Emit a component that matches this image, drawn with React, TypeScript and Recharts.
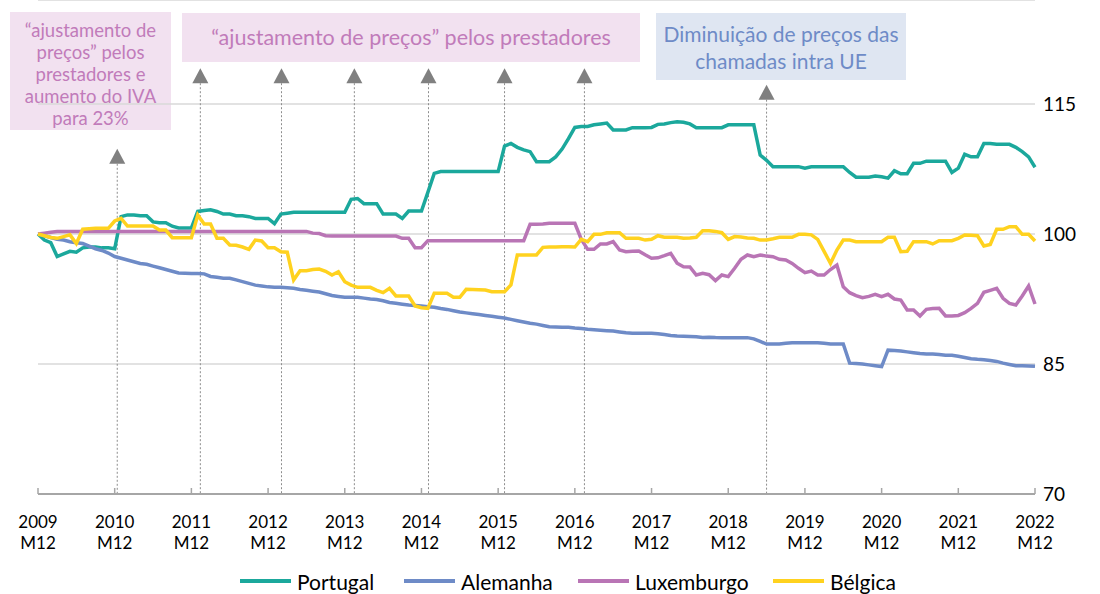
import React from 'react'
import { LineChart, Line, XAxis, YAxis, CartesianGrid, Legend, ReferenceLine } from 'recharts'

// monthly index, 2009 M12 .. 2022 M12
const months: string[] = []
for (let y = 2009; y <= 2022; y++) {
  for (let m = 1; m <= 12; m++) {
    if (y === 2009 && m < 12) continue
    months.push(`${y} M${String(m).padStart(2, '0')}`)
  }
}
const yearTicks = months.map((m, i) => (m.endsWith('M12') ? i : -1)).filter((i) => i >= 0)
const yTicks = [70, 85, 100, 115]

const portugal = [
  100, 99.3, 99.0, 97.4, 97.7, 98.0, 97.9, 98.4, 98.5, 98.5, 98.4, 98.4,
  98.3, 102.0, 102.2, 102.2, 102.1, 102.1, 101.4, 101.3, 101.3, 100.9, 100.7, 100.7,
  100.7, 102.6, 102.7, 102.8, 102.6, 102.3, 102.3, 102.1, 102.1, 102.0, 101.8, 101.8,
  101.8, 101.2, 102.3, 102.4, 102.5, 102.5, 102.5, 102.5, 102.5, 102.5, 102.5, 102.5,
  102.5, 104.0, 104.1, 103.5, 103.5, 103.5, 102.3, 102.3, 102.3, 101.8, 102.65, 102.65,
  102.65, 104.8, 107.0, 107.2, 107.2, 107.2, 107.2, 107.2, 107.2, 107.2, 107.2, 107.2,
  107.2, 110.15, 110.45, 110.0, 109.7, 109.5, 108.35, 108.35, 108.35, 108.9, 109.8, 111.0,
  112.3, 112.4, 112.4, 112.6, 112.7, 112.8, 112.0, 112.0, 112.0, 112.27, 112.27, 112.27,
  112.3, 112.65, 112.7, 112.85, 112.95, 112.9, 112.7, 112.27, 112.27, 112.27, 112.27, 112.27,
  112.6, 112.6, 112.6, 112.6, 112.6, 109.1, 108.5, 107.77, 107.77, 107.77, 107.77, 107.77,
  107.6, 107.75, 107.77, 107.77, 107.77, 107.77, 107.77, 107.1, 106.55, 106.55, 106.55, 106.7,
  106.6, 106.45, 107.3, 106.95, 106.95, 108.15, 108.15, 108.4, 108.4, 108.4, 108.4, 107.1,
  107.6, 109.2, 108.9, 108.9, 110.45, 110.45, 110.35, 110.35, 110.35, 110.0, 109.5, 108.9,
  107.7,
]

const alemanha = [
  100, 99.8, 99.6, 99.4, 99.3, 99.1, 99.0, 98.9, 98.6, 98.3, 98.1, 97.8,
  97.4, 97.2, 97.0, 96.8, 96.6, 96.5, 96.3, 96.1, 95.9, 95.7, 95.5, 95.47,
  95.45, 95.45, 95.4, 95.1, 95.0, 94.9, 94.9, 94.7, 94.5, 94.3, 94.1, 94.0,
  93.9, 93.85, 93.85, 93.8, 93.73, 93.6, 93.5, 93.4, 93.3, 93.1, 92.9, 92.8,
  92.7, 92.7, 92.7, 92.6, 92.5, 92.45, 92.3, 92.1, 92.0, 91.9, 91.8, 91.75,
  91.7, 91.6, 91.55, 91.4, 91.3, 91.15, 91.0, 90.9, 90.8, 90.7, 90.6, 90.5,
  90.4, 90.3, 90.15, 90.0, 89.85, 89.7, 89.6, 89.45, 89.3, 89.28, 89.25, 89.23,
  89.15, 89.1, 89.0, 88.95, 88.9, 88.85, 88.8, 88.7, 88.6, 88.55, 88.55, 88.55,
  88.55, 88.5, 88.4, 88.3, 88.23, 88.2, 88.17, 88.15, 88.05, 88.1, 88.05, 88.04,
  88.04, 88.04, 88.04, 88.04, 87.9, 87.6, 87.3, 87.3, 87.3, 87.4, 87.46, 87.46,
  87.46, 87.46, 87.46, 87.4, 87.3, 87.3, 87.3, 85.1, 85.05, 85.0, 84.9, 84.8,
  84.7, 86.6, 86.55, 86.5, 86.4, 86.3, 86.2, 86.15, 86.15, 86.1, 86.0, 86.0,
  85.9, 85.75, 85.6, 85.54, 85.5, 85.4, 85.3, 85.1, 84.95, 84.8, 84.8, 84.78,
  84.73,
]

const luxemburgo = [
  100, 100.1, 100.2, 100.3, 100.3, 100.3, 100.3, 100.3, 100.3, 100.3, 100.3, 100.3,
  100.3, 100.3, 100.3, 100.3, 100.3, 100.3, 100.3, 100.3, 100.3, 100.3, 100.3, 100.3,
  100.3, 100.3, 100.3, 100.3, 100.3, 100.3, 100.3, 100.3, 100.3, 100.3, 100.3, 100.3,
  100.3, 100.3, 100.3, 100.3, 100.3, 100.3, 100.3, 100.1, 100.05, 99.8, 99.77, 99.77,
  99.77, 99.77, 99.77, 99.77, 99.77, 99.77, 99.77, 99.77, 99.77, 99.5, 99.5, 98.42,
  98.42, 99.23, 99.23, 99.23, 99.23, 99.23, 99.23, 99.23, 99.23, 99.23, 99.23, 99.23,
  99.23, 99.23, 99.23, 99.23, 99.23, 101.12, 101.12, 101.15, 101.23, 101.23, 101.23, 101.23,
  101.23, 99.4, 98.23, 98.23, 98.85, 98.85, 99.12, 98.15, 97.96, 98.0, 98.04, 97.6,
  97.2, 97.25, 97.5, 97.77, 96.62, 96.23, 96.2, 95.27, 95.46, 95.3, 94.62, 95.27,
  95.08, 96.04, 97.08, 97.58, 97.38, 97.58, 97.45, 97.38, 97.08, 97.0, 96.6, 96.04,
  95.54, 95.73, 95.27, 95.27, 95.9, 96.42, 93.92, 93.23, 92.9, 92.65, 92.8, 93.04,
  92.77, 93.04, 92.5, 92.38, 91.23, 91.23, 90.54, 91.31, 91.4, 91.42, 90.54, 90.54,
  90.6, 90.92, 91.42, 92.0, 93.27, 93.5, 93.73, 92.58, 92.0, 91.81, 92.85, 94.0,
  91.92,
]

const belgica = [
  100, 99.8, 99.6, 99.5, 99.7, 99.9, 98.9, 100.55, 100.6, 100.65, 100.65, 100.65,
  101.5, 101.8, 100.92, 100.92, 100.92, 100.92, 100.92, 100.46, 100.46, 99.58, 99.58, 99.58,
  99.58, 102.2, 101.15, 101.15, 99.5, 99.5, 98.73, 98.7, 98.5, 98.23, 99.3, 99.2,
  98.42, 98.42, 97.96, 97.9, 94.7, 95.77, 95.77, 95.9, 95.96, 95.7, 95.27, 95.65,
  94.5, 94.1, 93.85, 93.85, 93.85, 93.5, 93.23, 93.73, 92.85, 92.85, 92.85, 91.69,
  91.5, 91.42, 93.15, 93.15, 93.15, 92.7, 92.7, 93.62, 93.6, 93.58, 93.54, 93.35,
  93.35, 93.35, 94.12, 97.58, 97.58, 97.58, 97.58, 98.46, 98.5, 98.5, 98.52, 98.54,
  98.5, 99.38, 99.12, 99.96, 99.96, 100.15, 100.15, 100.15, 99.5, 99.5, 99.5, 99.3,
  99.4, 99.8, 99.62, 99.62, 99.62, 99.5, 99.55, 99.62, 100.38, 100.38, 100.3, 100.15,
  99.38, 99.7, 99.65, 99.55, 99.5, 99.3, 99.3, 99.45, 99.62, 99.62, 99.62, 99.96,
  99.96, 99.9, 99.38, 98.0, 96.6, 98.15, 99.3, 99.3, 99.12, 99.12, 99.12, 99.12,
  99.12, 99.62, 99.62, 97.96, 98.0, 99.12, 99.12, 99.12, 98.85, 99.23, 99.23, 99.23,
  99.5, 99.88, 99.85, 99.8, 98.62, 98.8, 100.54, 100.54, 100.85, 100.85, 99.96, 99.96,
  99.19,
]

// annotation arrows: month position and value where the arrow head sits
const arrowAt = [12.4, 25.4, 38.1, 49.5, 61.1, 73.0, 85.5, 114.0]
const arrowBase = [108.1, 117.4, 117.4, 117.4, 117.4, 117.4, 117.4, 115.5]

const series = [
  { key: 'portugal', name: 'Portugal', color: '#1BA89C' },
  { key: 'alemanha', name: 'Alemanha', color: '#6E8BC7' },
  { key: 'luxemburgo', name: 'Luxemburgo', color: '#B975B5' },
  { key: 'belgica', name: 'Bélgica', color: '#FFD21F' },
]
const legendLeft = [240, 404, 578, 773]

const data = months.map((month, i) => ({
  i,
  month,
  portugal: portugal[i],
  alemanha: alemanha[i],
  luxemburgo: luxemburgo[i],
  belgica: belgica[i],
}))

const FONT = 'Lato, "Open Sans", sans-serif'

function XTick(props: any) {
  const { x, y, payload } = props
  const [yr, mo] = months[payload.value].split(' ')
  return (
    <g>
      <line x1={x} x2={x} y1={y - 8} y2={y - 14} stroke="#a6a6a6" strokeWidth={1.5} />
      <text x={x} y={y} textAnchor="middle" fontSize={17} fill="#000" fontFamily={FONT}>
        <tspan x={x} dy={26}>{yr}</tspan>
        <tspan x={x} dy={21}>{mo}</tspan>
      </text>
    </g>
  )
}

function Arrow(p: any) {
  const top = Math.min(p.y1, p.y2)
  const bottom = Math.max(p.y1, p.y2)
  const x = p.x1
  return (
    <g>
      <line x1={x} x2={x} y1={top} y2={bottom} stroke="#8c8c8c" strokeWidth={1} strokeDasharray="2 2" />
      <path d={`M${x - 8},${top} L${x + 8},${top} L${x},${top - 15} Z`} fill="#808080" />
    </g>
  )
}

function LegendBox() {
  return (
    <div style={{ position: 'relative', height: 30, fontFamily: FONT }}>
      {series.map((s, k) => (
        <div
          key={s.key}
          style={{ position: 'absolute', left: legendLeft[k], top: 0, height: 30, display: 'flex', alignItems: 'center' }}
        >
          <span style={{ display: 'inline-block', width: 51, height: 4, background: s.color, marginRight: 6 }} />
          <span style={{ fontSize: 21, color: '#000', whiteSpace: 'nowrap' }}>{s.name}</span>
        </div>
      ))}
    </div>
  )
}

const pink = { background: '#F2E1F0', color: '#C17BBA' }
const blue = { background: '#DFE6F2', color: '#6E8BC7' }

export default function App() {
  return (
    <div style={{ position: 'absolute', left: 0, top: 0, width: 1100, height: 594, background: '#fff', fontFamily: FONT }}>
      <div
        style={{
          position: 'absolute', left: 10, top: 12, width: 161, height: 118, ...pink,
          fontSize: 18.5, lineHeight: '22px', textAlign: 'center', paddingTop: 7, boxSizing: 'border-box',
        }}
      >
        “ajustamento de<br />preços” pelos<br />prestadores e<br />aumento do IVA<br />para 23%
      </div>
      <div
        style={{
          position: 'absolute', left: 182, top: 13, width: 458, height: 49, ...pink,
          fontSize: 21.5, lineHeight: '49px', textAlign: 'center',
        }}
      >
        “ajustamento de preços” pelos prestadores
      </div>
      <div
        style={{
          position: 'absolute', left: 656, top: 13, width: 250, height: 67, ...blue,
          fontSize: 21, lineHeight: '27px', textAlign: 'center', paddingTop: 7, boxSizing: 'border-box',
        }}
      >
        Diminuição de preços das<br />chamadas intra UE
      </div>
      <div style={{ position: 'absolute', left: 0, top: 0 }}>
        <LineChart width={1100} height={594} data={data} margin={{ top: 0, right: 5, bottom: 70, left: 38 }}>
          <CartesianGrid horizontal vertical={false} stroke="#d9d9d9" strokeWidth={1.5} />
          <XAxis
            type="number"
            dataKey="i"
            domain={[0, 156]}
            ticks={yearTicks}
            interval={0}
            height={30}
            axisLine={{ stroke: '#a6a6a6', strokeWidth: 2 }}
            tickLine={false}
            tick={<XTick />}
          />
          <YAxis
            orientation="right"
            type="number"
            domain={[70, 127]}
            ticks={yTicks}
            width={60}
            axisLine={false}
            tickLine={false}
            tickMargin={2}
            tick={{ fill: '#000', fontSize: 19, fontFamily: FONT }}
          />
          {arrowAt.map((m, k) => (
            <ReferenceLine
              key={k}
              segment={[{ x: m, y: 70 }, { x: m, y: arrowBase[k] }]}
              shape={Arrow}
            />
          ))}
          {series.map((s) => (
            <Line
              key={s.key}
              type="linear"
              dataKey={s.key}
              name={s.name}
              stroke={s.color}
              strokeWidth={3.5}
              dot={false}
              activeDot={false}
              isAnimationActive={false}
            />
          ))}
          <Legend
            layout="horizontal"
            verticalAlign="middle"
            align="center"
            wrapperStyle={{ top: 566, left: 0, width: 1100, height: 30 }}
            content={<LegendBox />}
          />
        </LineChart>
      </div>
    </div>
  )
}
